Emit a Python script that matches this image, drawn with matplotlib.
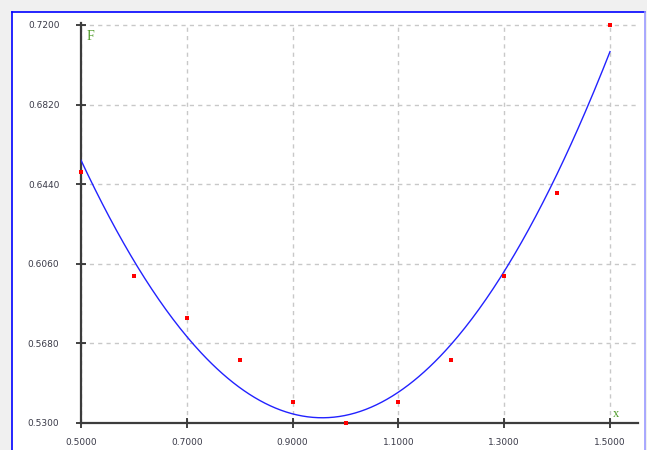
import numpy as np
import matplotlib
matplotlib.use("Agg")
import matplotlib.pyplot as plt
from matplotlib.patches import Rectangle
from matplotlib.lines import Line2D

# Measured points
x_vals = [0.5, 0.6, 0.7, 0.8, 0.9, 1.0, 1.1, 1.2, 1.3, 1.4, 1.5]
f_vals = [0.65, 0.60, 0.58, 0.56, 0.54, 0.53, 0.54, 0.56, 0.60, 0.64, 0.72]

x_ticks = [0.5, 0.7, 0.9, 1.1, 1.3, 1.5]
y_ticks = [0.530, 0.568, 0.606, 0.644, 0.682, 0.720]

# Least-squares quadratic through the points
coef = np.polyfit(x_vals, f_vals, 2)
xs = np.linspace(0.5, 1.5, 300)
fs = np.polyval(coef, xs)

W, H = 647, 450
fig = plt.figure(figsize=(W / 100, H / 100), dpi=100)
fig.patch.set_facecolor("#f0f0f0")

# white panel with blue frame
fig.patches.append(Rectangle((12 / W, 0), (645 - 12) / W, (H - 12) / H,
                             transform=fig.transFigure, facecolor="white",
                             edgecolor="none", zorder=-5))
fig.lines.append(Line2D([12 / W, 12 / W], [0, (H - 12) / H], transform=fig.transFigure,
                        color="#0000ff", lw=1.2, zorder=-4))
fig.lines.append(Line2D([12 / W, 645 / W], [(H - 12) / H, (H - 12) / H],
                        transform=fig.transFigure, color="#0000ff", lw=1.2, zorder=-4))
fig.lines.append(Line2D([645 / W, 645 / W], [0, (H - 12) / H], transform=fig.transFigure,
                        color="#9a9aff", lw=1.2, zorder=-4))

left, right = 81 / W, 638 / W
bottom, top = (H - 423) / H, (H - 23) / H
ax = fig.add_axes([left, bottom, right - left, top - bottom])
ax.set_zorder(2)
ax.set_facecolor("none")

x0, x1 = 0.5, 0.5 + (638 - 81) / (610 - 81)
y0 = 0.53
y1 = 0.53 + (423 - 23) / (423 - 25) * 0.19
ax.set_xlim(x0, x1)
ax.set_ylim(y0, y1)

for s in ("top", "right"):
    ax.spines[s].set_visible(False)
for s in ("left", "bottom"):
    ax.spines[s].set_color("#3c3c3c")
    ax.spines[s].set_linewidth(1.6)

ax.set_xticks(x_ticks)
ax.set_yticks(y_ticks)
ax.set_xticklabels([f"{v:.4f}" for v in x_ticks])
ax.set_yticklabels([f"{v:.4f}" for v in y_ticks])
ax.tick_params(axis="both", direction="inout", length=7, width=1.2, color="#222222",
               labelsize=6.5, labelcolor="#3a3a48")
ax.tick_params(axis="y", pad=12)
ax.tick_params(axis="x", pad=7)

ax.grid(True, color="#c8c8c8", linestyle=(0, (3, 3)), linewidth=1.0)
ax.set_axisbelow(True)

ax.plot(xs, fs, color="#2222ff", lw=1.0, zorder=3)
ax.scatter(x_vals, f_vals, marker="s", s=6, color="#ff0000", zorder=4, linewidths=0,
           clip_on=False)

ax.text(0.51, 0.7175, "F", family="Liberation Serif", fontsize=10, color="#4d9a26",
        ha="left", va="top")
ax.text(1.505, 0.5315, "x", family="Liberation Serif", fontsize=9, color="#4d9a26",
        ha="left", va="bottom")

fig.savefig("out.png", dpi=100, facecolor=fig.get_facecolor())
